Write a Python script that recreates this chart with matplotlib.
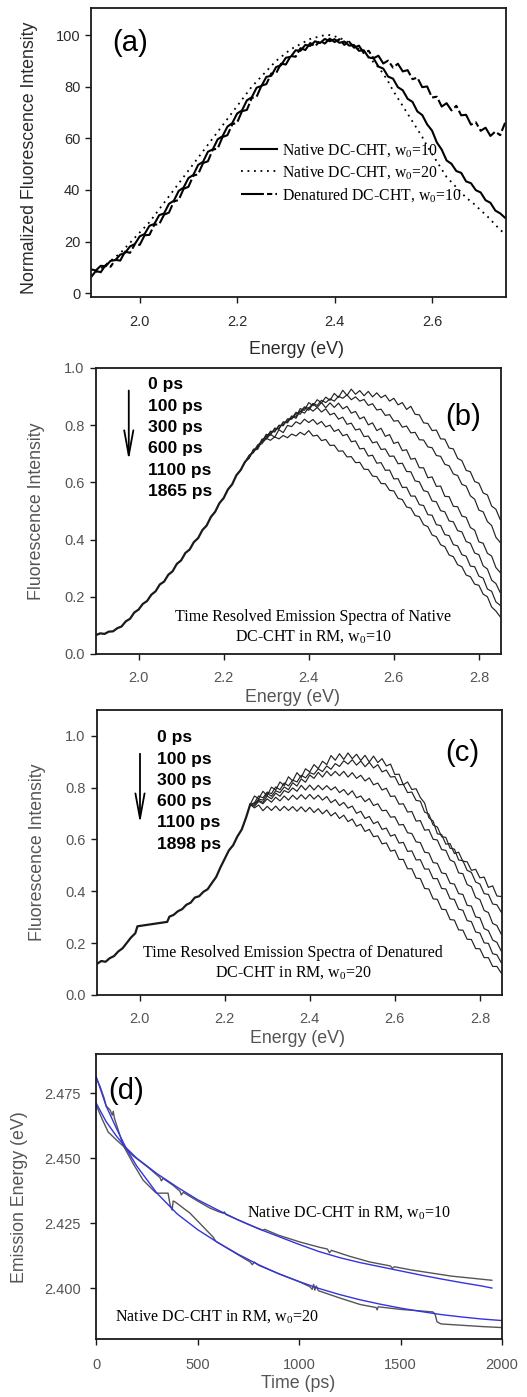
import numpy as np
import matplotlib.pyplot as plt
from matplotlib.ticker import FormatStrFormatter

# ===== Fonts =====
plt.rcParams.update({
    'font.family': 'Liberation Sans',
    'mathtext.fontset': 'custom',
    'mathtext.rm': 'Liberation Serif',
    'mathtext.it': 'Liberation Serif:italic',
})
SERIF = 'Liberation Serif'

# ===== (a) steady-state spectra, 1.90 .. 2.75 eV =====
energy_a = np.linspace(1.90, 2.75, 86)
native_w10 = [9.2, 8.8, 10.6, 10.4, 12.5, 12.8, 14.9, 15.6, 18.1, 19.0,
              22.0, 22.9, 26.1, 26.8, 30.2, 30.9, 34.6, 35.8, 39.6, 40.9,
              44.6, 45.8, 49.7, 50.9, 54.8, 55.7, 59.6, 60.8, 64.5, 65.9,
              69.6, 70.8, 74.7, 75.9, 79.6, 80.3, 83.8, 84.2, 87.6, 88.3,
              91.2, 91.6, 94.1, 93.9, 96.2, 95.8, 97.6, 96.9, 98.5, 97.6,
              98.4, 97.0, 97.5, 95.9, 96.1, 93.9, 94.1, 91.3, 91.0, 87.8,
              87.0, 83.9, 83.1, 79.8, 78.6, 75.3, 74.1, 70.4, 69.0, 65.4,
              63.0, 58.4, 55.6, 51.4, 50.1, 47.3, 46.6, 43.3, 42.6, 39.9,
              39.0, 36.0, 35.0, 32.0, 30.9, 29.2]
native_w20 = [6.5, 8, 9.5, 11, 12.5, 14, 15.5, 17.5, 19.5, 21.5,
              23.5, 25.5, 27.5, 30, 32.5, 35, 37.5, 40, 42.5, 45,
              47.5, 50, 52.5, 55, 57.5, 60, 62.5, 65, 67.5, 70,
              72.5, 75, 77.5, 80, 82, 84, 86, 88, 90, 91.5,
              93, 94.5, 95.5, 96.5, 97.5, 98.5, 99, 99.5, 100, 100,
              99.5, 99, 98, 97, 96, 94.5, 93, 91.5, 89.5, 87.5,
              85, 82, 78.5, 75.5, 72.5, 69.5, 66.5, 63.5, 60.5, 57,
              54, 51, 48, 45, 43, 41, 39, 37, 35.5, 34,
              32, 30.5, 28.5, 26.5, 24.5, 23]
denat_w10 = [6.2, 8.6, 8.1, 10.9, 10.2, 12.9, 12.6, 16.1, 15.6, 18.9,
             18.7, 22.4, 22.6, 26.5, 26.7, 30.4, 31.2, 35.5, 36.1, 40.4,
             41.2, 45.5, 46.1, 50.4, 51.1, 55.6, 56.0, 60.5, 61.2, 65.4,
             66.1, 70.5, 71.0, 75.6, 76.1, 80.4, 81.0, 85.1, 85.2, 88.9,
             88.6, 91.9, 91.6, 94.9, 94.2, 96.9, 95.6, 97.8, 96.7, 98.6,
             97.3, 98.4, 96.2, 97.4, 95.1, 95.9, 93.1, 93.9, 91.0, 92.0,
             89.0, 90.1, 87.4, 88.9, 85.9, 86.4, 82.9, 83.5, 79.8, 80.1,
             75.8, 76.1, 72.3, 73.6, 70.8, 72.6, 68.9, 69.1, 65.3, 66.2,
             62.9, 64.1, 60.9, 62.6, 61.2, 66.0]
legend_a = [r'Native DC-CHT, w$_\mathrm{0}$=10',
            r'Native DC-CHT, w$_\mathrm{0}$=20',
            r'Denatured DC-CHT, w$_\mathrm{0}$=10']

# ===== (b) TRES native, w0=10 =====
rise_b_e = np.linspace(1.90, 2.25, 36)
rise_b = [.066, .072, .070, .078, .079, .090, .096, .114, .123, .145,
          .155, .175, .185, .207, .219, .243, .253, .277, .289, .315,
          .327, .353, .365, .391, .405, .433, .449, .479, .497, .527,
          .545, .575, .593, .625, .643, .671]
tail_b_e = np.linspace(2.26, 2.85, 60)
tails_b = [
    [.692, .705, .731, .741, .768, .765, .790, .786, .812, .808,
     .831, .829, .858, .852, .879, .868, .889, .878, .898, .887,
     .911, .897, .922, .904, .926, .908, .921, .903, .918, .899,
     .913, .896, .905, .884, .894, .871, .879, .855, .866, .838,
     .836, .808, .806, .781, .783, .752, .751, .720, .717, .684,
     .676, .642, .637, .603, .597, .563, .556, .517, .506, .470],
    [.688, .712, .722, .748, .757, .776, .779, .797, .801, .818,
     .821, .839, .846, .864, .859, .876, .869, .887, .879, .892,
     .884, .901, .894, .906, .889, .899, .884, .890, .869, .875,
     .853, .856, .834, .837, .814, .816, .793, .797, .773, .775,
     .749, .748, .724, .721, .694, .691, .663, .658, .629, .624,
     .593, .587, .553, .541, .503, .497, .463, .449, .408, .390],
    [.684, .716, .719, .751, .754, .779, .776, .800, .798, .822,
     .823, .845, .838, .861, .852, .874, .862, .879, .861, .878,
     .862, .877, .857, .866, .842, .848, .822, .829, .801, .808,
     .781, .789, .761, .767, .736, .741, .711, .714, .681, .684,
     .651, .651, .616, .619, .586, .587, .551, .550, .516, .515,
     .482, .478, .442, .433, .392, .387, .352, .342, .302, .285],
    [.695, .707, .728, .743, .763, .769, .785, .789, .808, .811,
     .832, .824, .850, .842, .861, .849, .862, .846, .857, .836,
     .842, .821, .828, .803, .807, .783, .787, .760, .762, .738,
     .742, .715, .717, .691, .692, .665, .667, .638, .637, .605,
     .602, .571, .567, .535, .532, .501, .497, .465, .462, .431,
     .427, .393, .387, .353, .347, .308, .297, .258, .246, .215],
    [.686, .711, .716, .744, .751, .768, .758, .784, .774, .799,
     .795, .812, .804, .821, .809, .820, .803, .813, .794, .800,
     .778, .785, .763, .768, .742, .745, .717, .719, .692, .695,
     .667, .669, .642, .643, .612, .613, .582, .583, .552, .552,
     .522, .519, .487, .485, .452, .449, .417, .414, .382, .378,
     .347, .342, .307, .305, .272, .265, .227, .219, .182, .170],
    [.693, .704, .729, .735, .754, .747, .759, .752, .764, .756,
     .769, .762, .775, .766, .781, .762, .765, .746, .750, .729,
     .730, .709, .710, .689, .690, .669, .670, .646, .645, .622,
     .620, .596, .595, .572, .570, .544, .540, .514, .510, .484,
     .480, .452, .445, .416, .410, .382, .375, .346, .340, .312,
     .305, .276, .270, .244, .240, .209, .200, .164, .150, .130],
]
times_b = ['0 ps', '100 ps', '300 ps', '600 ps', '1100 ps', '1865 ps']

# ===== (c) TRES denatured, w0=20 =====
rise_c_e = [1.90, 1.91, 1.92, 1.93, 1.94, 1.95, 1.96, 1.97, 1.98, 1.99,
            1.995, 2.065, 2.07, 2.08, 2.09, 2.10, 2.11, 2.12, 2.13, 2.14,
            2.15, 2.16, 2.17, 2.18, 2.19, 2.20, 2.21, 2.22, 2.23, 2.24,
            2.25, 2.26]
rise_c = [.120, .131, .128, .142, .150, .168, .180, .201, .222, .238,
          .265, .282, .302, .309, .323, .331, .348, .356, .376, .381,
          .398, .408, .432, .455, .492, .525, .558, .578, .612, .638,
          .683, .735]
tail_c_e = np.linspace(2.27, 2.85, 59)
tails_c = [
    [.768, .757, .786, .769, .802, .791, .822, .808, .842, .826,
     .858, .839, .873, .861, .889, .874, .902, .889, .924, .906,
     .931, .909, .934, .912, .929, .905, .925, .899, .922, .897,
     .912, .884, .891, .851, .852, .811, .822, .793, .796, .762,
     .741, .684, .671, .622, .619, .582, .584, .546, .551, .516,
     .514, .481, .485, .452, .455, .415, .421, .382, .380],
    [.742, .768, .761, .783, .777, .803, .792, .818, .807, .829,
     .822, .848, .838, .858, .852, .873, .862, .884, .871, .893,
     .882, .904, .891, .908, .887, .903, .881, .898, .876, .889,
     .861, .868, .841, .843, .811, .813, .781, .783, .751, .748,
     .706, .698, .656, .648, .611, .608, .566, .563, .521, .518,
     .481, .473, .436, .428, .391, .388, .351, .348, .320],
    [.738, .756, .752, .779, .767, .788, .781, .803, .792, .819,
     .806, .834, .821, .849, .836, .859, .841, .864, .846, .863,
     .846, .863, .841, .858, .836, .848, .826, .838, .811, .818,
     .791, .798, .766, .768, .736, .738, .706, .708, .671, .673,
     .636, .638, .601, .598, .561, .558, .521, .513, .471, .468,
     .426, .418, .376, .368, .326, .318, .276, .268, .235],
    [.733, .751, .743, .768, .757, .779, .767, .789, .781, .799,
     .786, .809, .791, .810, .791, .809, .792, .808, .791, .803,
     .781, .793, .772, .788, .761, .768, .746, .758, .731, .738,
     .711, .713, .686, .688, .656, .658, .626, .623, .591, .588,
     .551, .548, .511, .508, .471, .468, .431, .428, .391, .388,
     .346, .343, .301, .298, .256, .248, .212, .203, .170],
    [.728, .747, .738, .757, .744, .763, .749, .768, .752, .771,
     .755, .773, .756, .774, .756, .771, .752, .766, .742, .754,
     .731, .743, .721, .729, .701, .709, .681, .689, .661, .669,
     .639, .644, .613, .619, .586, .589, .554, .556, .521, .522,
     .486, .486, .449, .449, .411, .409, .371, .369, .331, .327,
     .287, .283, .243, .239, .201, .199, .159, .155, .125],
    [.722, .733, .711, .728, .712, .729, .711, .728, .712, .727,
     .709, .726, .707, .724, .704, .719, .699, .714, .691, .704,
     .681, .694, .669, .679, .651, .659, .631, .639, .611, .614,
     .583, .587, .555, .559, .523, .523, .487, .487, .451, .449,
     .411, .409, .371, .369, .331, .329, .291, .289, .251, .250,
     .215, .214, .179, .178, .144, .144, .110, .110, .085],
]
times_c = ['0 ps', '100 ps', '300 ps', '600 ps', '1100 ps', '1898 ps']

# ===== (d) emission energy vs time =====
t_data_w10 = [0, 30, 60, 100, 143, 180, 217, 260, 300, 315, 322, 330, 380, 414, 420,
              430, 500, 560, 600, 626, 632, 640, 700, 760, 823, 830, 900, 1005, 1100,
              1140, 1150, 1160, 1250, 1350, 1450, 1460, 1470, 1550, 1650, 1750, 1850, 1950]
e_data_w10 = [2.4705, 2.4650, 2.4600, 2.4570, 2.4540, 2.4510, 2.4488, 2.4462, 2.4435,
              2.4425, 2.4412, 2.4422, 2.4395, 2.4372, 2.4358, 2.4368, 2.4335, 2.4308,
              2.4295, 2.4288, 2.4293, 2.4283, 2.4262, 2.4242, 2.4222, 2.4226, 2.4203,
              2.4177, 2.4157, 2.4150, 2.4136, 2.4145, 2.4122, 2.4100, 2.4085, 2.4076,
              2.4082, 2.4070, 2.4058, 2.4046, 2.4038, 2.4030]
t_data_w20 = [0, 20, 40, 50, 69, 80, 85, 90, 133, 182, 232, 281, 297, 355, 365, 375,
              380, 392, 463, 577, 590, 700, 760, 770, 780, 800, 900, 1000, 1054, 1065,
              1072, 1078, 1085, 1095, 1200, 1300, 1380, 1385, 1390, 1500, 1600, 1660,
              1670, 1680, 1700, 1800, 1900, 2000]
e_data_w20 = [2.4810, 2.4775, 2.4730, 2.4700, 2.4685, 2.4665, 2.4680, 2.4655, 2.4550,
              2.4480, 2.4415, 2.4377, 2.4365, 2.4365, 2.4320, 2.4300, 2.4335, 2.4330,
              2.4288, 2.4196, 2.4180, 2.4128, 2.4100, 2.4090, 2.4100, 2.4088, 2.4055,
              2.4025, 2.4005, 2.3995, 2.4014, 2.3992, 2.4008, 2.3990, 2.3962, 2.3937,
              2.3925, 2.3916, 2.3928, 2.3918, 2.3912, 2.3908, 2.3900, 2.3870, 2.3862,
              2.3857, 2.3852, 2.3848]
t_fit_w10 = [0, 50, 100, 150, 200, 300, 400, 500, 600, 700, 800, 900, 1000, 1100,
             1200, 1300, 1400, 1500, 1600, 1700, 1800, 1900, 1950]
e_fit_w10 = [2.4712, 2.4640, 2.4585, 2.4538, 2.4500, 2.4440, 2.4388, 2.4340, 2.4300,
             2.4262, 2.4228, 2.4198, 2.4168, 2.4140, 2.4117, 2.4098, 2.4082, 2.4066,
             2.4050, 2.4035, 2.4021, 2.4008, 2.4000]
t_fit_w20 = [0, 50, 100, 150, 200, 300, 400, 500, 600, 700, 800, 900, 1000, 1100,
             1200, 1300, 1400, 1500, 1600, 1700, 1800, 1900, 2000]
e_fit_w20 = [2.4815, 2.4700, 2.4615, 2.4535, 2.4470, 2.4365, 2.4285, 2.4225, 2.4175,
             2.4130, 2.4090, 2.4055, 2.4025, 2.3998, 2.3975, 2.3955, 2.3938, 2.3923,
             2.3910, 2.3898, 2.3889, 2.3881, 2.3875]


def style_axes(ax, tick_color, tick_size, xpad, ypad):
    for s in ax.spines.values():
        s.set_linewidth(1.3)
        s.set_color('#1a1a1a')
    ax.tick_params(direction='out', length=4, width=1.0, color='#1a1a1a',
                   labelcolor=tick_color, labelsize=tick_size)
    ax.tick_params(axis='x', pad=xpad)
    ax.tick_params(axis='y', pad=ypad)


fig = plt.figure(figsize=(5.27, 13.97), dpi=100)

# ----- (a) -----
ax1 = fig.add_axes([0.1727, 0.7874, 0.7875, 0.2069])
ax1.plot(energy_a, native_w10, color='black', lw=1.5, label=legend_a[0])
ax1.plot(energy_a, native_w20, color='black', lw=1.3, linestyle=(0, (1, 2.6)), label=legend_a[1])
ax1.plot(energy_a, denat_w10, color='black', lw=1.5, dashes=[11, 1.5, 2.5, 1.5], label=legend_a[2])
ax1.set_xlim(1.9, 2.752)
ax1.set_ylim(-1.5, 110.5)
ax1.set_xticks([2.0, 2.2, 2.4, 2.6])
ax1.set_yticks([0, 20, 40, 60, 80, 100])
ax1.xaxis.set_major_formatter(FormatStrFormatter('%.1f'))
style_axes(ax1, '#2a2a2a', 10.5, 9, 3.6)
ax1.set_xlabel('Energy (eV)', fontsize=12.8, color='#2a2a2a')
ax1.set_ylabel('Normalized Fluorescence Intensity', fontsize=12.8, color='#2a2a2a')
ax1.xaxis.set_label_coords(0.496, -0.152)
ax1.yaxis.set_label_coords(-0.128, 0.481)
ax1.text(0.094, 0.879, '(a)', transform=ax1.transAxes, fontsize=21, ha='center', va='center')
ax1.legend(loc='upper left', bbox_to_anchor=(0.361, 0.535), frameon=False,
           prop={'family': SERIF, 'size': 11.3}, handlelength=2.3, handletextpad=0.3,
           labelspacing=0.33, borderpad=0, borderaxespad=0)


def tres_panel(ax, rise_e, rise_i, tail_e, tails, times, ylim, tag, tag_xy,
               arrow_x, arrow_y, text_x, text_y0, note, note_x, note_y):
    # shared rising edge drawn as one thicker band, then each spectrum's tail
    ax.plot(rise_e, rise_i, color='#1a1a1a', lw=1.6)
    for tail in tails:
        e = np.concatenate([rise_e[-1:], tail_e])
        i = np.concatenate([rise_i[-1:], tail])
        ax.plot(e, i, color='#222222', lw=0.85)
    ax.set_xlim(1.9, 2.852)
    ax.set_ylim(*ylim)
    ax.set_xticks([2.0, 2.2, 2.4, 2.6, 2.8])
    ax.set_yticks([0.0, 0.2, 0.4, 0.6, 0.8, 1.0])
    ax.xaxis.set_major_formatter(FormatStrFormatter('%.1f'))
    ax.yaxis.set_major_formatter(FormatStrFormatter('%.1f'))
    style_axes(ax, '#555555', 10.5, 8.6, 4.3)
    ax.set_xlabel('Energy (eV)', fontsize=12.8, color='#555555')
    ax.set_ylabel('Fluorescence Intensity', fontsize=12.8, color='#555555')
    ax.text(tag_xy[0], tag_xy[1], tag, transform=ax.transAxes, fontsize=21,
            ha='center', va='center')
    ax.annotate('', xy=(arrow_x, arrow_y[1]), xytext=(arrow_x, arrow_y[0]),
                arrowprops=dict(arrowstyle='->,head_length=1.8,head_width=0.33',
                                lw=1.3, color='black', shrinkA=0, shrinkB=0,
                                mutation_scale=10))
    for k, lab in enumerate(times):
        ax.text(text_x, text_y0 - k * 0.0745, lab, transform=ax.transAxes,
                fontsize=12.6, fontweight='bold', ha='left', va='center')
    for k, line in enumerate(note):
        ax.text(note_x, note_y[k], line, transform=ax.transAxes, family=SERIF,
                fontsize=11.5, ha='center', va='center')


# ----- (b) -----
ax2 = fig.add_axes([0.1822, 0.5319, 0.7685, 0.2047])
tres_panel(ax2, rise_b_e, rise_b, tail_b_e, tails_b, times_b, (0, 1.0), '(b)', (0.906, 0.829),
           1.977, (0.921, 0.677), 0.128, 0.9406,
           ['Time Resolved Emission Spectra of Native', r'DC-CHT in RM, w$_\mathrm{0}$=10'],
           0.536, (0.129, 0.059))
ax2.xaxis.set_label_coords(0.486, -0.122)
ax2.yaxis.set_label_coords(-0.126, 0.5)

# ----- (c) -----
ax3 = fig.add_axes([0.1841, 0.2878, 0.7685, 0.2040])
tres_panel(ax3, np.array(rise_c_e), np.array(rise_c), tail_c_e, tails_c, times_c, (0, 1.1),
           '(c)', (0.901, 0.849), 2.001, (0.931, 0.662), 0.148, 0.902,
           ['Time Resolved Emission Spectra of Denatured', r'DC-CHT in RM, w$_\mathrm{0}$=20'],
           0.484, (0.147, 0.077))
ax3.xaxis.set_label_coords(0.496, -0.123)
ax3.yaxis.set_label_coords(-0.126, 0.5)

# ----- (d) -----
ax4 = fig.add_axes([0.1822, 0.0415, 0.7704, 0.2040])
ax4.plot(t_data_w10, e_data_w10, color='#555555', lw=1.0)
ax4.plot(t_data_w20, e_data_w20, color='#555555', lw=1.0)
ax4.plot(t_fit_w10, e_fit_w10, color='#3434e0', lw=1.0)
ax4.plot(t_fit_w20, e_fit_w20, color='#3434e0', lw=1.0)
ax4.set_xlim(0, 2000)
ax4.set_ylim(2.3804, 2.490)
ax4.set_xticks([0, 500, 1000, 1500, 2000])
ax4.set_yticks([2.400, 2.425, 2.450, 2.475])
ax4.yaxis.set_major_formatter(FormatStrFormatter('%.3f'))
style_axes(ax4, '#555555', 10.5, 10, 7)
ax4.set_xlabel('Time (ps)', fontsize=12.8, color='#555555')
ax4.set_ylabel('Emission Energy (eV)', fontsize=12.8, color='#555555')
ax4.xaxis.set_label_coords(0.498, -0.126)
ax4.yaxis.set_label_coords(-0.167, 0.498)
ax4.text(0.074, 0.87, '(d)', transform=ax4.transAxes, fontsize=21, ha='center', va='center')
ax4.text(0.372, 0.442, r'Native DC-CHT in RM, w$_\mathrm{0}$=10', transform=ax4.transAxes,
         family=SERIF, fontsize=11.5, ha='left', va='center')
ax4.text(0.047, 0.077, r'Native DC-CHT in RM, w$_\mathrm{0}$=20', transform=ax4.transAxes,
         family=SERIF, fontsize=11.5, ha='left', va='center')

fig.savefig('out.png', dpi=100)
